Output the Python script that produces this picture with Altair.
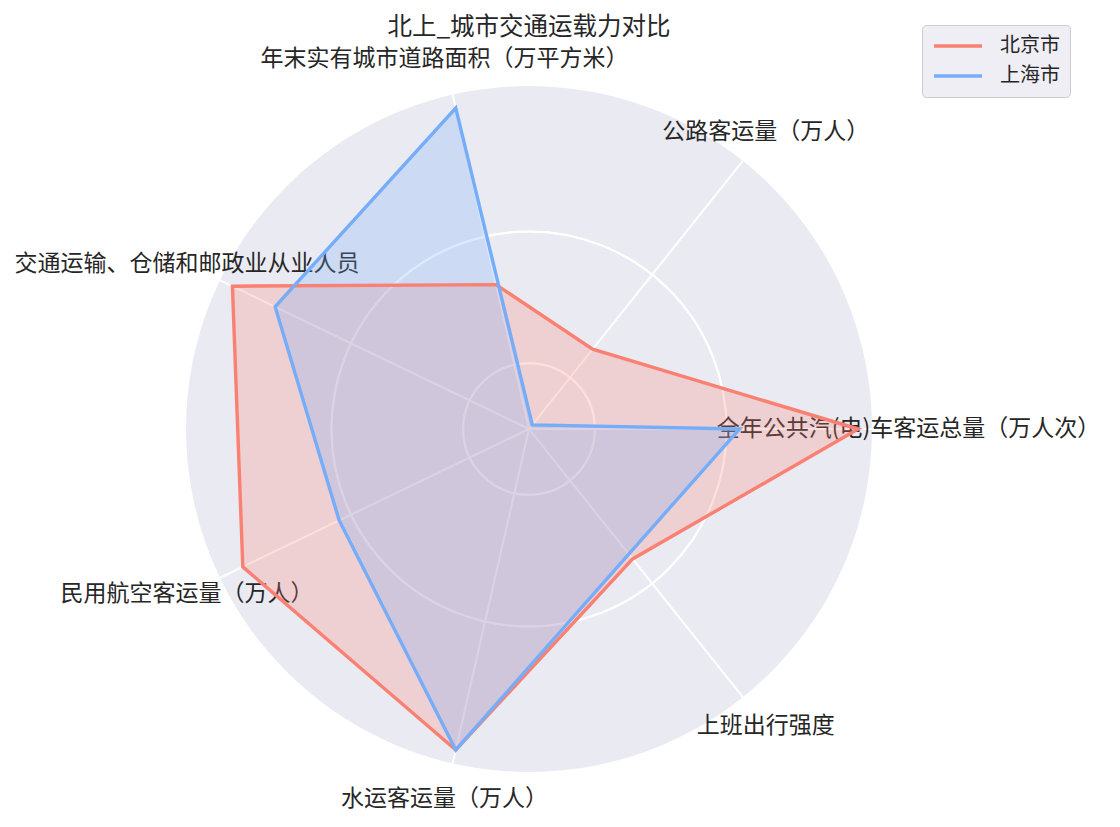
import altair as alt
import pandas as pd

# ---- data ----
categories = [
    "全年公共汽(电)车客运总量（万人次）",
    "公路客运量（万人）",
    "年末实有城市道路面积（万平方米）",
    "交通运输、仓储和邮政业从业人员",
    "民用航空客运量（万人）",
    "水运客运量（万人）",
    "上班出行强度",
]
beijing = [1.0, 0.31, 0.45, 1.0, 0.965, 1.0, 0.505]
shanghai = [0.64, 0.016, 1.0, 0.856, 0.64, 1.0, 0.486]
cities = ["北京市", "上海市"]
colors = ["#FA8072", "#76ADF9"]
ring_levels = [0.2, 0.4, 0.6, 0.8, 1.0]
title_text = "北上_城市交通运载力对比"

# ---- layout constants ----
R_MAX = 1.042
LABEL_R = 1.153
SIZE = 686
FONT = "Noto Sans CJK SC"
TXT = "#262626"
BG = "#EAEAF2"
N = len(categories)

rows = []
for city, vals in zip(cities, [beijing, shanghai]):
    for i, v in enumerate(vals):
        rows.append({"city": city, "idx": i, "value": v})
series = pd.DataFrame(rows)
spokes = pd.DataFrame({"idx": list(range(N)), "value": [R_MAX] * N, "zero": [0.0] * N})
labels = pd.DataFrame({"idx": list(range(N)), "label": categories, "value": [LABEL_R] * N})
rings = pd.DataFrame({"r": ring_levels})
disc = pd.DataFrame({"r": [R_MAX]})
title_df = pd.DataFrame({"t": [title_text]})

xs = alt.Scale(domain=[-R_MAX, R_MAX], nice=False, zero=False)
ys = alt.Scale(domain=[-R_MAX, R_MAX], nice=False, zero=False)
rs = alt.Scale(type="linear", domain=[0, R_MAX], range=[0, SIZE / 2], zero=True)


def to_xy(ch):
    return ch.transform_calculate(theta=f"datum.idx * 2 * PI / {N}").transform_calculate(
        px="datum.value * cos(datum.theta)", py="datum.value * sin(datum.theta)"
    )


bg = alt.Chart(disc).mark_arc(theta=0, theta2=6.2832, color=BG).encode(
    radius=alt.Radius("r:Q", scale=rs)
)
ring_layer = alt.Chart(rings).mark_arc(
    theta=0, theta2=6.2832, stroke="white", strokeWidth=2, fillOpacity=0
).encode(radius=alt.Radius("r:Q", scale=rs))

spoke_layer = to_xy(alt.Chart(spokes)).mark_rule(color="white", strokeWidth=2).encode(
    x=alt.X("zero:Q", scale=xs, axis=None),
    y=alt.Y("zero:Q", scale=ys, axis=None),
    x2="px:Q",
    y2="py:Q",
)

label_layer = to_xy(alt.Chart(labels)).mark_text(
    font=FONT, fontSize=23, color=TXT, align="center", baseline="middle"
).encode(
    x=alt.X("px:Q", scale=xs, axis=None),
    y=alt.Y("py:Q", scale=ys, axis=None),
    text="label:N",
)

title_layer = alt.Chart(title_df).mark_text(
    font=FONT, fontSize=24.5, color=TXT, align="center", baseline="alphabetic"
).encode(
    x=alt.value(SIZE / 2),
    y=alt.value(-51),
    text="t:N",
)


def fill_layer(city, col):
    return to_xy(alt.Chart(series)).transform_filter(
        alt.datum.city == city
    ).mark_line(
        interpolate="linear-closed", fill=col, fillOpacity=0.25, strokeOpacity=0
    ).encode(
        x=alt.X("px:Q", scale=xs, axis=None),
        y=alt.Y("py:Q", scale=ys, axis=None),
        order="idx:Q",
    )


def line_layer(city):
    return to_xy(alt.Chart(series)).transform_filter(
        alt.datum.city == city
    ).mark_line(interpolate="linear-closed", strokeWidth=3.4, strokeJoin="miter").encode(
        x=alt.X("px:Q", scale=xs, axis=None),
        y=alt.Y("py:Q", scale=ys, axis=None),
        order="idx:Q",
        color=alt.Color(
            "city:N",
            scale=alt.Scale(domain=cities, range=colors),
            legend=alt.Legend(
                title=None,
                orient="none",
                legendX=736,
                legendY=-61,
                direction="vertical",
                symbolType="stroke",
                symbolStrokeWidth=3.4,
                symbolSize=2304,
                labelFont=FONT,
                labelFontSize=20,
                labelColor=TXT,
                labelOffset=16,
                fillColor="#EEEEF4",
                strokeColor="#CCCCCC",
                cornerRadius=4,
                padding=10,
                rowPadding=8,
                clipHeight=22,
            ),
        ),
    )


chart = alt.layer(
    bg,
    ring_layer,
    spoke_layer,
    label_layer,
    fill_layer(cities[0], colors[0]),
    fill_layer(cities[1], colors[1]),
    line_layer(cities[0]),
    line_layer(cities[1]),
    title_layer,
).properties(
    width=SIZE,
    height=SIZE,
    padding={"left": 186, "top": 86, "right": 248, "bottom": 55},
    autosize=alt.AutoSizeParams(type="none"),
).configure(background="white").configure_view(stroke=None)

chart.save("out.html", embed_options={"renderer": "svg", "actions": False})
